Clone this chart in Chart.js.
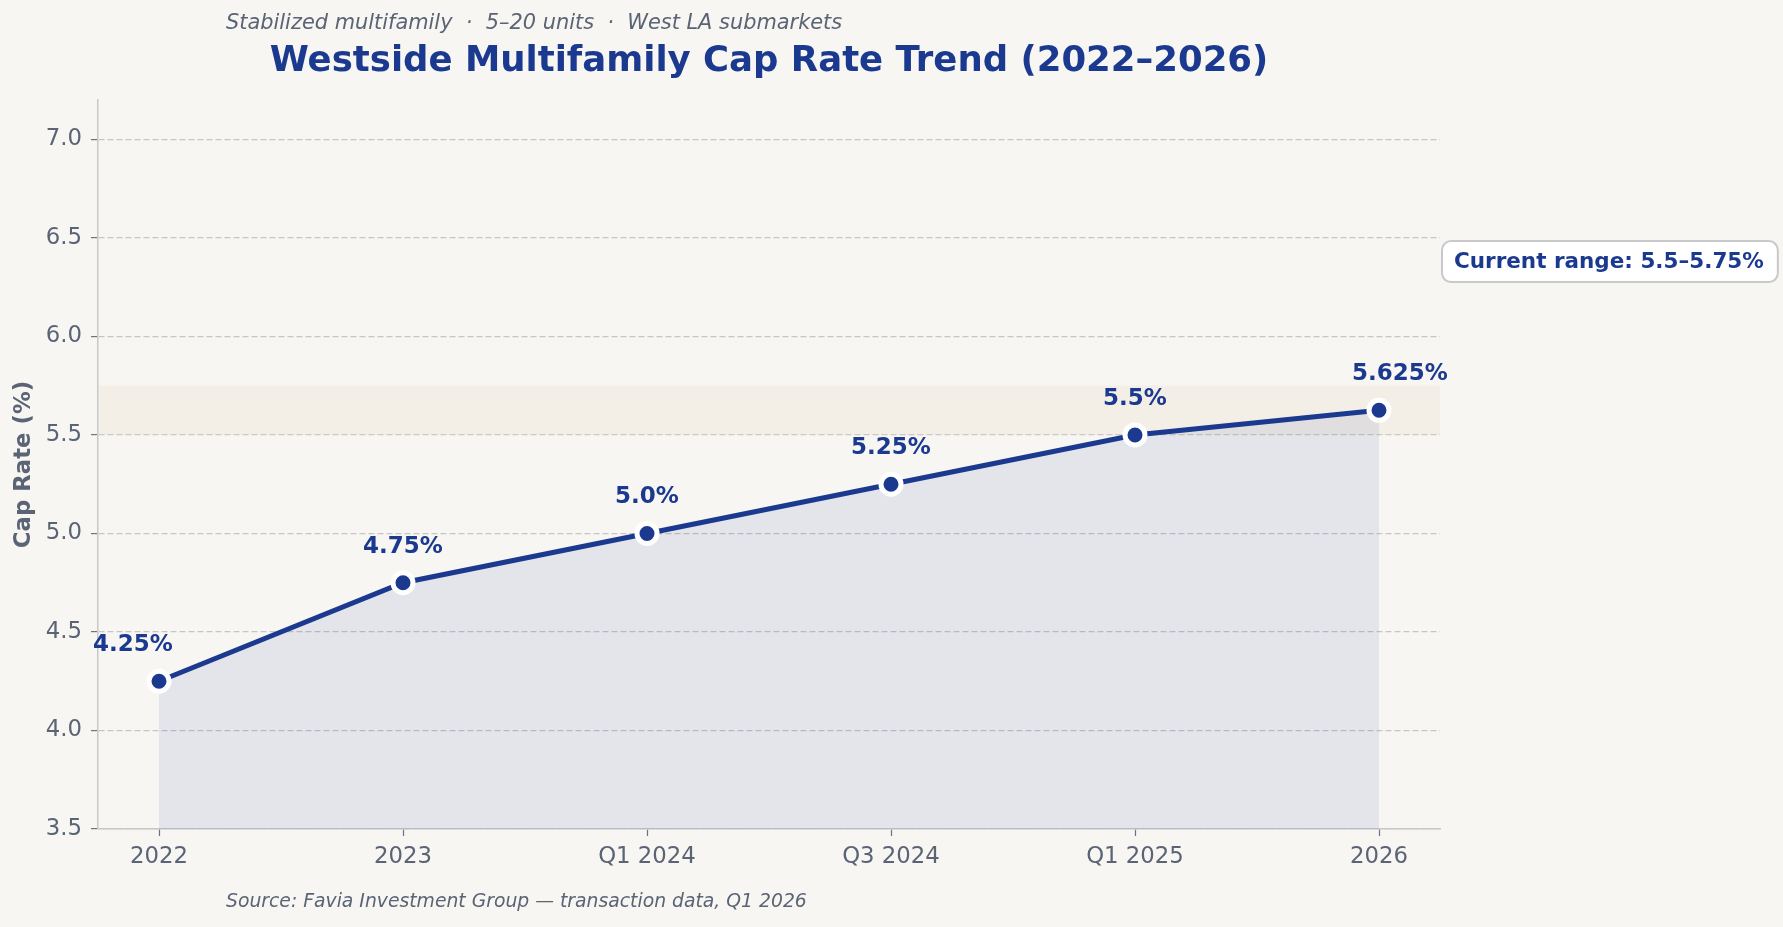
<!DOCTYPE html>
<html lang="en">
  <head>
    <meta charset="UTF-8">
    <title>Westside Multifamily Cap Rate Trend</title>
    <script src="https://cdn.jsdelivr.net/npm/chart.js"></script>
    <style>
      html, body { margin: 0; padding: 0; background: #f7f6f3; }
      #wrap { width: 1783px; height: 927px; }
    </style>
  </head>
  <body>
    <div id="wrap"><canvas id="chart" width="1783" height="927"></canvas></div>
    <script>
        // Data
        const periods = ['2022', '2023', 'Q1 2024', 'Q3 2024', 'Q1 2025', '2026'];
        const capRates = [4.25, 4.75, 5.0, 5.25, 5.5, 5.625];
        const pointLabels = ['4.25%', '4.75%', '5.0%', '5.25%', '5.5%', '5.625%'];
        const yTicks = [3.5, 4.0, 4.5, 5.0, 5.5, 6.0, 6.5, 7.0];
        const currentRange = [5.5, 5.75];

        const titleText = 'Westside Multifamily Cap Rate Trend (2022\u20132026)';
        const subtitleText = 'Stabilized multifamily  \u00b7  5\u201320 units  \u00b7  West LA submarkets';
        const sourceText = 'Source: Favia Investment Group \u2014 transaction data, Q1 2026';
        const rangeNote = 'Current range: 5.5\u20135.75%';

        const NAVY = '#1b3a8f';
        const GREY = '#5a6475';
        const FONT = '"DejaVu Sans", sans-serif';

        // Extra drawing: band, value labels, titles, note box
        const extras = {
            id: 'extras',
            beforeDatasetsDraw(chart) {
                const { ctx, chartArea: a, scales: { y } } = chart;
                const top = y.getPixelForValue(currentRange[1]);
                const bot = y.getPixelForValue(currentRange[0]);
                ctx.save();
                ctx.fillStyle = 'rgba(232, 214, 190, 0.22)';
                ctx.fillRect(a.left, top, a.right - a.left, bot - top);
                ctx.restore();
            },
            afterDatasetsDraw(chart) {
                const { ctx } = chart;
                const pts = chart.getDatasetMeta(0).data;
                const last = pts.length - 1;
                ctx.save();
                ctx.fillStyle = NAVY;
                ctx.font = 'bold 23px ' + FONT;
                ctx.textAlign = 'center';
                ctx.textBaseline = 'middle';
                pts.forEach((p, i) => {
                    // end labels nudged sideways so they stay clear of the axes
                    const dx = i === 0 ? -26 : (i === last ? 21 : 0);
                    ctx.fillText(pointLabels[i], p.x + dx, p.y - 36);
                });
                ctx.restore();
            },
            afterDraw(chart) {
                const { ctx, chartArea: a, scales: { y } } = chart;
                ctx.save();
                ctx.textBaseline = 'middle';

                ctx.fillStyle = NAVY;
                ctx.font = 'bold 35.5px ' + FONT;
                ctx.textAlign = 'center';
                ctx.fillText(titleText, (a.left + a.right) / 2, 62);

                ctx.fillStyle = GREY;
                ctx.font = 'italic 20.9px ' + FONT;
                ctx.textAlign = 'left';
                ctx.fillText(subtitleText, 226, 24);

                ctx.font = 'italic 18.8px ' + FONT;
                ctx.fillText(sourceText, 226, 902);

                // note box
                ctx.font = 'bold 21.5px ' + FONT;
                const w = ctx.measureText(rangeNote).width + 26;
                const h = 41;
                const bx = a.right + 2;
                const by = y.getPixelForValue(6.38) - h / 2;
                ctx.beginPath();
                ctx.roundRect(bx, by, w, h, 9);
                ctx.fillStyle = '#ffffff';
                ctx.fill();
                ctx.lineWidth = 2;
                ctx.strokeStyle = '#c9c9cc';
                ctx.stroke();
                ctx.fillStyle = NAVY;
                ctx.fillText(rangeNote, bx + 12, by + h / 2 + 1);
                ctx.restore();
            }
        };

        const canvas = document.getElementById('chart');
        const chart = new Chart(canvas, {
            type: 'line',
            data: {
                datasets: [{
                    data: capRates.map((v, i) => ({ x: i, y: v })),
                    borderColor: NAVY,
                    borderWidth: 5,
                    backgroundColor: 'rgba(27, 58, 143, 0.085)',
                    fill: 'start',
                    tension: 0,
                    pointRadius: 10,
                    pointHoverRadius: 10,
                    pointBackgroundColor: NAVY,
                    pointBorderColor: '#ffffff',
                    pointBorderWidth: 5
                }]
            },
            options: {
                responsive: false,
                animation: false,
                devicePixelRatio: 1,
                layout: { padding: { top: 100, right: 343, bottom: 0, left: 0 } },
                plugins: {
                    legend: { display: false },
                    tooltip: { enabled: false },
                    title: { display: false }
                },
                scales: {
                    x: {
                        type: 'linear',
                        min: -0.25,
                        max: periods.length - 0.75,
                        afterBuildTicks: s => { s.ticks = periods.map((_, i) => ({ value: i })); },
                        afterFit: s => { s.height = 98; },
                        ticks: {
                            callback: v => periods[v],
                            color: GREY,
                            font: { family: FONT, size: 22.8 },
                            padding: 7,
                            maxRotation: 0
                        },
                        grid: { drawOnChartArea: false, tickLength: 7, tickColor: '#6b7280', tickWidth: 1.2 },
                        border: { color: '#c8c8c8', width: 1.5 }
                    },
                    y: {
                        min: 3.5,
                        max: 7.2,
                        afterBuildTicks: s => { s.ticks = yTicks.map(v => ({ value: v })); },
                        afterFit: s => { s.width = 98; },
                        ticks: {
                            callback: v => v.toFixed(1),
                            color: GREY,
                            font: { family: FONT, size: 22.8 },
                            padding: 9
                        },
                        grid: {
                            color: '#c6c6c6',
                            lineWidth: 1.2,
                            tickLength: 7,
                            tickColor: '#6b7280',
                            tickWidth: 1.2,
                            tickBorderDash: []
                        },
                        border: { color: '#c8c8c8', width: 1.5, dash: [6, 3] },
                        title: {
                            display: true,
                            text: 'Cap Rate (%)',
                            color: GREY,
                            font: { family: FONT, size: 22.8, weight: 'bold' },
                            padding: { top: 10, bottom: 0 }
                        }
                    }
                }
            },
            plugins: [extras]
        });
    </script>
  </body>
</html>
